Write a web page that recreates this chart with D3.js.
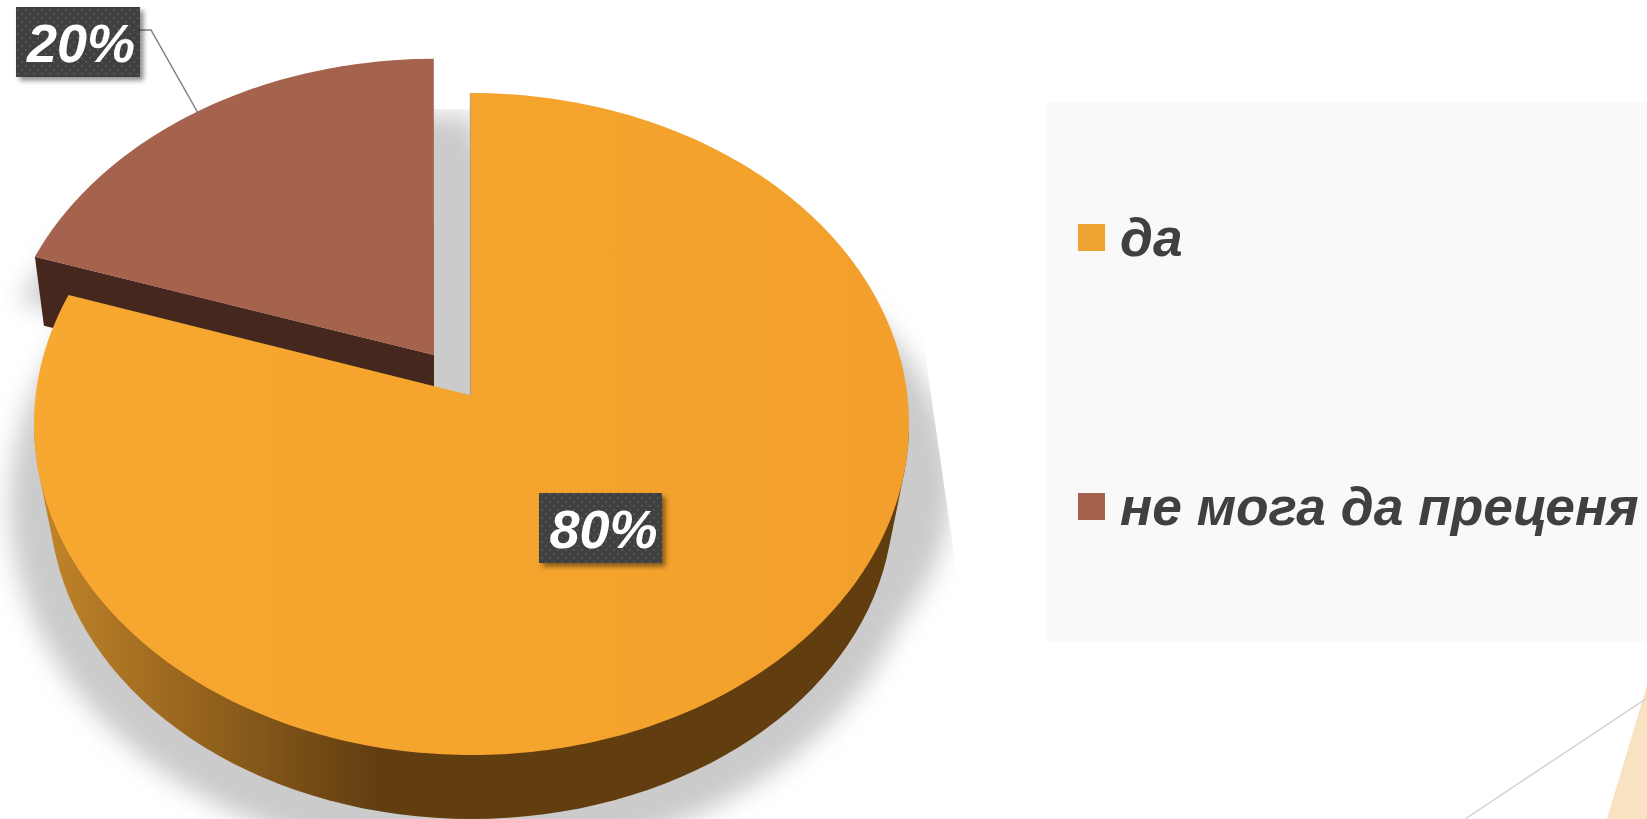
<!DOCTYPE html>
<html>
<head>
<meta charset="utf-8">
<script src="https://cdn.jsdelivr.net/npm/d3@7"></script>
<style>
  html, body { margin: 0; padding: 0; background: #fff; overflow: hidden; }
  svg { display: block; }
  text { font-family: "Liberation Sans", Arial, sans-serif; font-weight: bold; font-style: italic; }
</style>
</head>
<body>
<div id="chart"></div>
<script>
const categories = ['да', 'не мога да преценя'];
const percentages = [80, 20];
const sliceColors = ['#f4a42e', '#a5634e'];

const width = 1647, height = 819;

// Pie geometry: top face and bottom rim ellipses, tilt moves the apex off the ellipse centre
const topRim = { cx: 471.5, cy: 424, rx: 437.5, ry: 331 };
const bottomRim = { cx: 471.5, cy: 501, rx: 422, ry: 318 };
const tilt = 0.095;
const apex = [470.5, 395.3];
const explodedApex = [434, 355];
const explodeScaleX = 0.993;
const explodeScaleY = 0.98;

function rimPoint(angle, g) {
  const x = Math.sin(angle), y = Math.cos(angle);
  const k = 1 + tilt * y;
  return [
    g.cx + g.rx * x * Math.sqrt(1 - tilt * tilt) / k,
    g.cy - g.ry * (y + tilt) / k
  ];
}

function rimSamples(a0, a1, g, n = 160) {
  return d3.range(n + 1).map(i => rimPoint(a0 + (a1 - a0) * i / n, g));
}

const svg = d3.select('#chart').append('svg')
  .attr('width', width)
  .attr('height', height);

const defs = svg.append('defs');

const blur = defs.append('filter').attr('id', 'soft')
  .attr('x', '-20%').attr('y', '-20%').attr('width', '140%').attr('height', '140%');
blur.append('feGaussianBlur').attr('stdDeviation', 12);

const boxShadow = defs.append('filter').attr('id', 'boxShadow')
  .attr('x', '-20%').attr('y', '-20%').attr('width', '140%').attr('height', '140%');
boxShadow.append('feDropShadow')
  .attr('dx', 3.5).attr('dy', 3.5).attr('stdDeviation', 2.5)
  .attr('flood-color', '#000').attr('flood-opacity', 0.45);

const dots = defs.append('pattern').attr('id', 'dots')
  .attr('patternUnits', 'userSpaceOnUse')
  .attr('width', 8).attr('height', 8);
dots.append('rect').attr('width', 8).attr('height', 8).attr('fill', '#404040');
dots.append('rect').attr('x', 1).attr('y', 1).attr('width', 2).attr('height', 2).attr('fill', '#555');
dots.append('rect').attr('x', 5).attr('y', 5).attr('width', 2).attr('height', 2).attr('fill', '#555');

const faceGrad = defs.append('linearGradient').attr('id', 'faceGrad');
faceGrad.append('stop').attr('offset', '0%').attr('stop-color', '#f7a830');
faceGrad.append('stop').attr('offset', '100%').attr('stop-color', '#f2a02b');

const wallGrad = defs.append('linearGradient').attr('id', 'wallGrad')
  .attr('gradientUnits', 'userSpaceOnUse')
  .attr('x1', 34).attr('x2', 380).attr('y1', 0).attr('y2', 0);
wallGrad.append('stop').attr('offset', '0%').attr('stop-color', '#c4862a');
wallGrad.append('stop').attr('offset', '100%').attr('stop-color', '#613d10');

defs.append('clipPath').attr('id', 'shadowClip')
  .append('polygon').attr('points', '0,109 890,109 992,819 0,819');

// Slide background pieces, bottom right
svg.append('polygon')
  .attr('points', '1647,685 1607,819 1647,819')
  .attr('fill', '#f9e2c2');
svg.append('line')
  .attr('x1', 1465).attr('y1', 819).attr('x2', 1647).attr('y2', 698)
  .attr('stroke', '#d4d4d4').attr('stroke-width', 1.5);

// Legend panel
svg.append('rect')
  .attr('x', 1046).attr('y', 102)
  .attr('width', width - 1046).attr('height', 539)
  .attr('fill', '#f9f9f9');

const arcs = d3.pie().sort(null)
  .startAngle(-0.003)
  .endAngle(2 * Math.PI - 0.003)(percentages);

const line = d3.line();
const closed = pts => line(pts) + 'Z';

const orangeRim = rimSamples(arcs[0].startAngle, arcs[0].endAngle, topRim, 320);
const brownRim = rimSamples(arcs[1].startAngle, arcs[1].endAngle, topRim, 80)
  .map(p => [
    explodedApex[0] + (p[0] - apex[0]) * explodeScaleX,
    explodedApex[1] + (p[1] - apex[1]) * explodeScaleY
  ]);
const brownFace = [explodedApex, ...brownRim];

// Soft shadows under the pie
const shadow = svg.append('g').attr('clip-path', 'url(#shadowClip)')
  .append('g').attr('filter', 'url(#soft)').attr('fill', '#cbcbcb');
shadow.append('ellipse').attr('cx', 468).attr('cy', 505).attr('rx', 458).attr('ry', 358);
shadow.append('ellipse').attr('cx', 490).attr('cy', 485).attr('rx', 462).attr('ry', 300);
shadow.append('path').attr('d', closed(brownFace)).attr('transform', 'translate(42,56)');
shadow.append('path').attr('d', closed(brownFace)).attr('transform', 'translate(-15,45)');

// Outer wall of the big slice
const wallPoints = rimSamples(0, 2 * Math.PI, topRim)
  .concat(rimSamples(0, 2 * Math.PI, bottomRim))
  .filter(p => p[1] > topRim.cy);
svg.append('path')
  .attr('d', closed(d3.polygonHull(wallPoints)))
  .attr('fill', 'url(#wallGrad)');

// Cut wall of the exploded slice
const brownCorner = brownRim[0];
svg.append('path')
  .attr('d', closed([
    brownCorner,
    [brownCorner[0] + 9, brownCorner[1] + 69],
    [brownCorner[0] + 17, brownCorner[1] + 71],
    [explodedApex[0], explodedApex[1] + 60],
    explodedApex
  ]))
  .attr('fill', '#45271d');

// Faces
svg.append('path')
  .attr('d', closed(brownFace))
  .attr('fill', sliceColors[1]);
svg.append('path')
  .attr('d', closed([apex, ...orangeRim]))
  .attr('fill', 'url(#faceGrad)');

// Thin darker edge along the cut of the big slice
svg.append('path')
  .attr('d', line([orangeRim[0], apex]))
  .attr('fill', 'none')
  .attr('stroke', '#b09a78')
  .attr('stroke-width', 1);

// Leader line for the small slice
svg.append('polyline')
  .attr('points', '138,30 151,30 198,113')
  .attr('fill', 'none')
  .attr('stroke', '#7f7f7f')
  .attr('stroke-width', 1.5);

// Data labels
const labelBoxes = [
  { x: 539, y: 493, w: 123, h: 70 },
  { x: 16, y: 7, w: 124, h: 70 }
];
const labels = svg.selectAll('.label')
  .data(arcs)
  .enter()
  .append('g')
  .attr('class', 'label');
labels.append('rect')
  .attr('x', (d, i) => labelBoxes[i].x)
  .attr('y', (d, i) => labelBoxes[i].y)
  .attr('width', (d, i) => labelBoxes[i].w)
  .attr('height', (d, i) => labelBoxes[i].h)
  .attr('fill', 'url(#dots)')
  .attr('filter', 'url(#boxShadow)');
labels.append('text')
  .attr('x', (d, i) => labelBoxes[i].x + labelBoxes[i].w / 2 + 3)
  .attr('y', (d, i) => labelBoxes[i].y + 55)
  .attr('text-anchor', 'middle')
  .attr('font-size', 54)
  .attr('fill', '#fff')
  .text(d => d.data + '%');

// Legend
const legendY = d3.scalePoint().domain(categories).range([224, 493]);
const legend = svg.selectAll('.legend')
  .data(categories)
  .enter()
  .append('g')
  .attr('class', 'legend')
  .attr('transform', d => `translate(1078,${legendY(d)})`);
legend.append('rect')
  .attr('width', 27).attr('height', 27)
  .attr('fill', (d, i) => i === 0 ? '#efa22f' : sliceColors[i]);
legend.append('text')
  .attr('x', 42).attr('y', 32)
  .attr('font-size', 53.3)
  .attr('fill', '#404040')
  .text(d => d);
</script>
</body>
</html>
